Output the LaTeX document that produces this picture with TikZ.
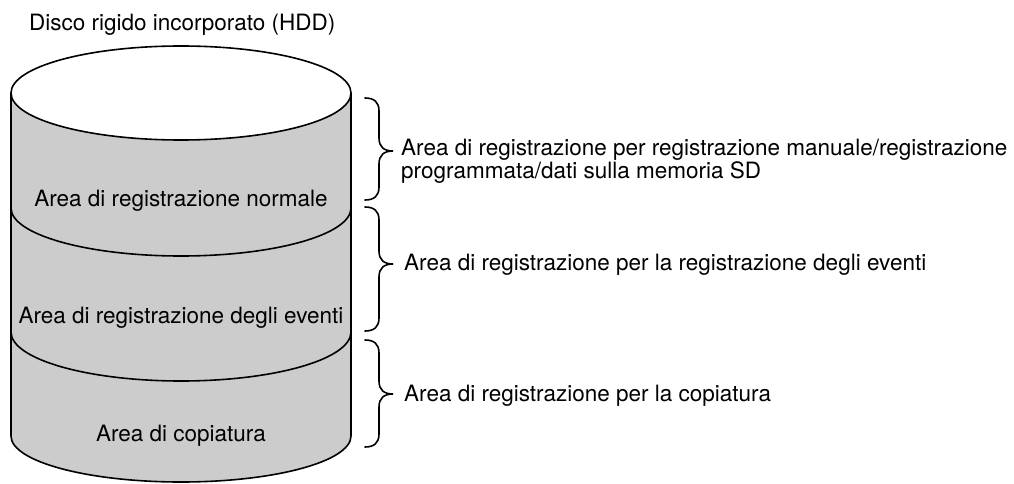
\documentclass[tikz,border=0pt]{standalone}
\usepackage{fontspec}
\setmainfont{TeX Gyre Heros}
\usepackage{tikz}
\definecolor{diskgray}{HTML}{CCCCCC}
\tikzset{
    disk/.style={draw=black, line width=1.6pt},
    areatext/.style={inner sep=0pt, font=\fontsize{22.5}{23}\selectfont},
    bracestyle/.style={draw=black, line width=1.6pt, line cap=round}
}
% brace: x, top y, tip y, bottom y
\newcommand{\hddbrace}[4]{%
    \draw[bracestyle] (#1,#2) .. controls (#1+9,#2) and (#1+14,#2+4) .. (#1+14,#2+13)
        -- (#1+14,#3-13) .. controls (#1+14,#3-4) and (#1+19,#3) .. (#1+28,#3)
        .. controls (#1+19,#3) and (#1+14,#3+4) .. (#1+14,#3+13)
        -- (#1+14,#4-13) .. controls (#1+14,#4-4) and (#1+9,#4) .. (#1,#4);
}

\begin{document}
\begin{tikzpicture}[x=1pt, y=-1pt]
        \useasboundingbox (0,0) rectangle (1014,484);

            % cylinder
            \fill[diskgray] (11,93) -- (11,436) arc[start angle=180, end angle=0, x radius=170, y radius=46] -- (351,93) -- cycle;
            \draw[disk] (11,93) -- (11,436) arc[start angle=180, end angle=0, x radius=170, y radius=46] -- (351,93);
            \draw[disk, fill=white] (181,93) ellipse[x radius=170, y radius=47];
            \draw[disk] (11,208) arc[start angle=180, end angle=0, x radius=170, y radius=48];
            \draw[disk] (11,332) arc[start angle=180, end angle=0, x radius=170, y radius=49];

            \node[areatext, anchor=base west] (hdd) at (29,31) {Disco rigido incorporato (HDD)};
            \node[areatext, anchor=base] (normale) at (181,206) {Area di registrazione normale};
            \node[areatext, anchor=base] (eventi) at (181,323) {Area di registrazione degli eventi};
            \node[areatext, anchor=base] (copia) at (181,441) {Area di copiatura};

            % braces
            \hddbrace{365}{98}{151}{200}
            \hddbrace{365}{207}{264}{331}
            \hddbrace{365}{340}{394}{447}

            \node[areatext, anchor=base west, align=left] (nota1) at (401,178) {Area di registrazione per registrazione manuale/registrazione\\programmata/dati sulla memoria SD};
            \node[areatext, anchor=base west] (nota2) at (404,270) {Area di registrazione per la registrazione degli eventi};
            \node[areatext, anchor=base west] (nota3) at (404,401) {Area di registrazione per la copiatura};

        \end{tikzpicture}
\end{document}
